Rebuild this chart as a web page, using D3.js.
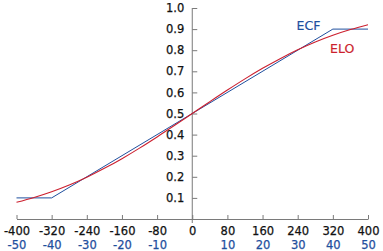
<!DOCTYPE html>
<html>
<head>
<meta charset="utf-8">
<script src="https://cdn.jsdelivr.net/npm/d3@7"></script>
<style>
  body { margin: 0; background: #fff; }
  svg { display: block; }
  .axis text { font-family: "DejaVu Sans", sans-serif; font-size: 11.5px; stroke-width: 0.25px; }
  .legend { font-family: "DejaVu Sans", sans-serif; font-size: 12.5px; stroke-width: 0.2px; }
</style>
</head>
<body>
<div id="chart"></div>
<script>
  'use strict';

  // rating difference (Elo points) and the ECF grade scale below it
  var eloTicks = [-400, -320, -240, -160, -80, 0, 80, 160, 240, 320, 400];
  var ecfTicks = [-50, -40, -30, -20, -10, 10, 20, 30, 40, 50];
  var scoreTicks = [0.1, 0.2, 0.3, 0.4, 0.5, 0.6, 0.7, 0.8, 0.9, 1.0];

  // ELO expected score, every 40 points
  var eloDiff = [-400, -360, -320, -280, -240, -200, -160, -120, -80, -40, 0,
                 40, 80, 120, 160, 200, 240, 280, 320, 360, 400];
  var eloScore = [0.079, 0.102, 0.129, 0.161, 0.198, 0.240, 0.286, 0.336,
                  0.389, 0.444, 0.500, 0.556, 0.611, 0.664, 0.714, 0.760,
                  0.802, 0.839, 0.871, 0.898, 0.921];

  // ECF expected score, the blue broken line
  var ecfDiff = [-400, -320, 320, 400];
  var ecfScore = [0.1, 0.1, 0.9, 0.9];

  var w = 383, h = 251;
  var blue = "#1f4f9e", red = "#cc1f2e", grey = "#7a7a7a";

  var x = d3.scaleLinear().domain([-400, 400]).range([16.5, 368]);
  var x2 = d3.scaleLinear().domain([-50, 50]).range([16.5, 368]);
  var y = d3.scaleLinear().domain([0, 1]).range([219, 8]);

  // plain hyphen for negatives, as in the original
  var plain = function(d) { return String(d); };

  var svg = d3.select("#chart").append("svg")
      .attr("width", w)
      .attr("height", h);

  // x axis, ticks pointing up
  var xAxis = svg.append("g")
      .attr("class", "axis")
      .attr("transform", "translate(0," + y(0) + ")")
      .call(d3.axisBottom(x).tickValues(eloTicks)
        .tickSizeInner(-4).tickSizeOuter(0).tickPadding(8)
        .tickFormat(plain));
  xAxis.select(".domain").attr("stroke", grey);
  xAxis.selectAll(".tick line").attr("stroke", grey);
  xAxis.selectAll("text").attr("fill", "#111").attr("stroke", "#111");

  // second row of labels: ECF grade difference
  var ecfAxis = svg.append("g")
      .attr("class", "axis")
      .attr("transform", "translate(0," + (y(0) + 21.5) + ")")
      .call(d3.axisBottom(x2).tickValues(ecfTicks)
        .tickSize(0).tickPadding(0).tickFormat(plain));
  ecfAxis.select(".domain").remove();
  ecfAxis.selectAll("text").attr("fill", blue).attr("stroke", blue);

  // y axis at zero, ticks crossing it
  var yAxis = svg.append("g")
      .attr("class", "axis")
      .attr("transform", "translate(" + x(0) + ",0)")
      .call(d3.axisLeft(y).tickValues(scoreTicks)
        .tickSize(5).tickPadding(3).tickFormat(d3.format(".1f")));
  yAxis.select(".domain").remove();
  yAxis.selectAll(".tick line").attr("x2", 5).attr("stroke", grey);
  yAxis.selectAll("text").attr("fill", "#111").attr("stroke", "#111");
  yAxis.append("line")
      .attr("y1", y(1))
      .attr("y2", y(0) + 4)
      .attr("stroke", grey);

  var line = d3.line()
      .x(function(d) { return x(d[0]); })
      .y(function(d) { return y(d[1]); });

  svg.append("path")
      .datum(d3.zip(ecfDiff, ecfScore))
      .attr("fill", "none")
      .attr("stroke", blue)
      .attr("stroke-width", 1)
      .attr("d", line);

  svg.append("path")
      .datum(d3.zip(eloDiff, eloScore))
      .attr("fill", "none")
      .attr("stroke", red)
      .attr("stroke-width", 1.1)
      .attr("d", line.curve(d3.curveMonotoneX));

  svg.append("text")
      .attr("class", "legend")
      .attr("x", 296.5)
      .attr("y", 29.5)
      .attr("fill", blue)
      .attr("stroke", blue)
      .text("ECF");

  svg.append("text")
      .attr("class", "legend")
      .attr("x", 330)
      .attr("y", 53)
      .attr("fill", red)
      .attr("stroke", red)
      .text("ELO");
</script>
</body>
</html>
